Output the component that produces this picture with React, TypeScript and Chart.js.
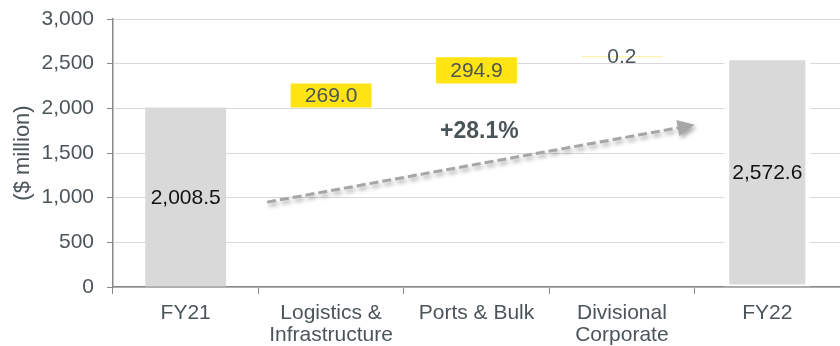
import React, { useEffect, useRef } from "react";
import { Chart, registerables } from "chart.js";

Chart.register(...registerables);

const categories: (string | string[])[] = [
  "FY21",
  ["Logistics &", "Infrastructure"],
  "Ports & Bulk",
  ["Divisional", "Corporate"],
  "FY22",
];
const startValue = 2008.5;
const changeValues = [269.0, 294.9, 0.2];
const endValue = 2572.6;
const valueLabels = ["2,008.5", "269.0", "294.9", "0.2", "2,572.6"];
const yTicks = [0, 500, 1000, 1500, 2000, 2500, 3000];
const growthLabel = "+28.1%";
// arrow annotation in data units: [category index, value]
const arrowFrom = [0.56, 950];
const arrowTo = [3.5, 1815];
const growthLabelAt = [2.02, 1736];

const FONT = "'Liberation Sans', Arial, Helvetica, sans-serif";
const TEXT = "#4b5559";

export default function App() {
  const ref = useRef<HTMLCanvasElement>(null);

  useEffect(() => {
    if (!ref.current) return;
    const floating: any[] = [[0, startValue]];
    let cum = startValue;
    for (const c of changeValues) {
      floating.push([cum, cum + c]);
      cum += c;
    }
    floating.push(null);
    const endData: any[] = categories.map((_, i) => (i === categories.length - 1 ? endValue : null));

    const labelPlugin = {
      id: "labels",
      afterDatasetsDraw(chart: any) {
        const ctx = chart.ctx;
        const xs = chart.scales.x;
        const ys = chart.scales.y;
        ctx.save();
        const x1 = xs.getPixelForValue(arrowFrom[0]);
        const y1 = ys.getPixelForValue(arrowFrom[1]);
        const x2 = xs.getPixelForValue(arrowTo[0]);
        const y2 = ys.getPixelForValue(arrowTo[1]);
        const ang = Math.atan2(y2 - y1, x2 - x1);
        const headLen = 17;
        const headW = 8;
        const bx = x2 - headLen * Math.cos(ang);
        const by = y2 - headLen * Math.sin(ang);
        ctx.shadowColor = "rgba(0,0,0,0.35)";
        ctx.shadowBlur = 4;
        ctx.shadowOffsetX = 2;
        ctx.shadowOffsetY = 3;
        ctx.strokeStyle = "#a6a6a6";
        ctx.lineWidth = 3;
        ctx.setLineDash([9, 4]);
        ctx.beginPath();
        ctx.moveTo(x1, y1);
        ctx.lineTo(bx, by);
        ctx.stroke();
        ctx.setLineDash([]);
        ctx.fillStyle = "#a6a6a6";
        ctx.beginPath();
        ctx.moveTo(x2, y2);
        ctx.lineTo(bx + headW * Math.sin(ang), by - headW * Math.cos(ang));
        ctx.lineTo(bx - headW * Math.sin(ang), by + headW * Math.cos(ang));
        ctx.closePath();
        ctx.fill();
        ctx.shadowColor = "transparent";
        ctx.shadowBlur = 0;
        ctx.shadowOffsetX = 0;
        ctx.shadowOffsetY = 0;

        ctx.font = `bold 23px ${FONT}`;
        ctx.fillStyle = TEXT;
        ctx.textAlign = "center";
        ctx.textBaseline = "middle";
        ctx.fillText(
          growthLabel,
          xs.getPixelForValue(growthLabelAt[0]),
          ys.getPixelForValue(growthLabelAt[1])
        );

        ctx.font = `21px ${FONT}`;
        const m0 = chart.getDatasetMeta(0);
        const m1 = chart.getDatasetMeta(1);
        categories.forEach((_, i) => {
          const el = i === categories.length - 1 ? m1.data[i] : m0.data[i];
          if (!el) return;
          const cx = el.x;
          const cy = (el.y + el.base) / 2;
          const isTotal = i === 0 || i === categories.length - 1;
          ctx.fillStyle = isTotal ? "#111111" : TEXT;
          ctx.fillText(valueLabels[i], cx, cy + 1);
        });
        ctx.restore();
      },
    };

    const chart = new Chart(ref.current, {
      type: "bar",
      data: {
        labels: categories as any,
        datasets: [
          {
            data: floating,
            backgroundColor: ["#d9d9d9", "#ffe312", "#ffe312", "rgba(255,227,18,0.45)", "#d9d9d9"],
            borderWidth: 0,
            barPercentage: 0.556,
            categoryPercentage: 1,
            minBarLength: 1,
          },
          {
            data: endData,
            backgroundColor: "#d9d9d9",
            borderColor: "#ffffff",
            borderWidth: { top: 3, bottom: 2, left: 5, right: 5 },
            borderSkipped: false,
            barPercentage: 0.592,
            categoryPercentage: 1,
          },
        ],
      },
      options: {
        animation: false,
        responsive: true,
        maintainAspectRatio: false,
        layout: { padding: { left: 6, top: 19, right: 0, bottom: 0 } },
        plugins: {
          legend: { display: false },
          tooltip: { enabled: false },
        },
        scales: {
          x: {
            stacked: true,
            offset: true,
            afterFit: (s: any) => {
              s.height = 59;
            },
            grid: {
              offset: true,
              drawOnChartArea: false,
              drawTicks: true,
              tickLength: 7,
              tickColor: "#888888",
              color: "#888888",
            },
            border: { display: true, color: "#888888", width: 1.5 },
            ticks: {
              color: TEXT,
              font: { family: FONT, size: 21, lineHeight: 1.05 },
              padding: 8,
              maxRotation: 0,
              autoSkip: false,
            },
          },
          y: {
            stacked: false,
            min: yTicks[0],
            max: yTicks[yTicks.length - 1],
            afterBuildTicks: (scale: any) => {
              scale.ticks = yTicks.map((v) => ({ value: v }));
            },
            afterFit: (s: any) => {
              s.width = 107;
              s.paddingTop = 0;
              s.paddingBottom = 0;
            },
            grid: {
              color: "#d9d9d9",
              lineWidth: 1,
              tickLength: 6,
              tickColor: "#888888",
            },
            border: { display: true, color: "#888888", width: 1.5 },
            ticks: {
              color: TEXT,
              font: { family: FONT, size: 21 },
              padding: 13,
              callback: (v: any) => Number(v).toLocaleString("en-US"),
            },
            title: {
              display: true,
              text: "($ million)",
              color: TEXT,
              font: { family: FONT, size: 22 },
              padding: { top: 4, bottom: 4 },
            },
          },
        },
      },
      plugins: [labelPlugin],
    });
    return () => chart.destroy();
  }, []);

  return (
    <div style={{ position: "absolute", left: 0, top: 0, width: 840, height: 346, background: "#fff" }}>
      <canvas ref={ref} />
    </div>
  );
}
